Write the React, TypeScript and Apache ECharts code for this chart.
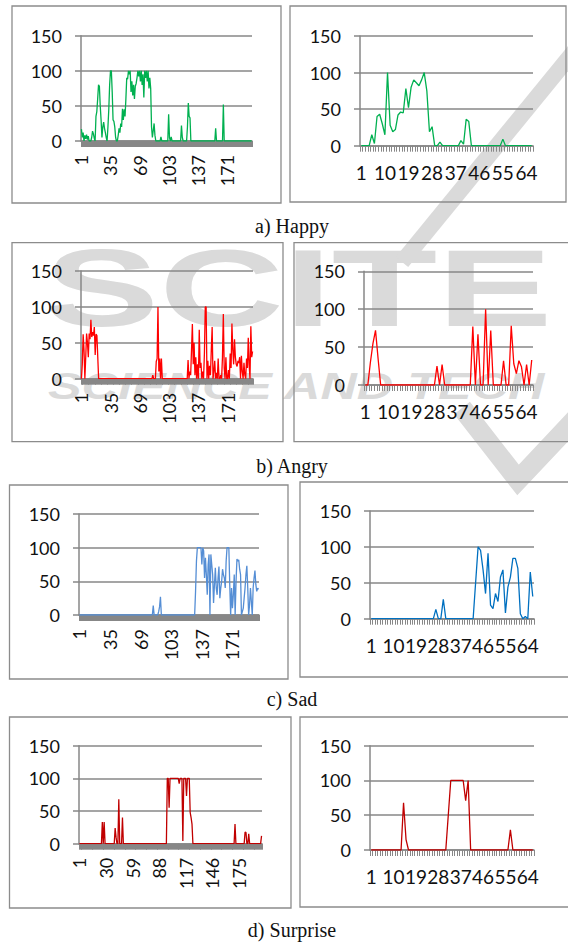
import React, { useEffect, useRef } from "react";
import * as echarts from "echarts";

// ---------- data (0..150 scale) ----------
const happyLeft = [
  17, 5, 12, 0, 8, 3, 9, 2, 7, 0,
  0, 0, 5, 14, 10, 4, 0, 35, 42, 60,
  80, 78, 50, 30, 5, 20, 27, 18, 12, 5,
  0, 20, 45, 80, 100, 100, 70, 30, 28, 20,
  5, 0, 0, 8, 18, 12, 25, 20, 46, 30,
  45, 35, 60, 90, 88, 100, 95, 100, 70, 85,
  65, 80, 60, 78, 82, 90, 100, 92, 100, 85,
  100, 80, 95, 62, 100, 90, 100, 85, 100, 75,
  90, 75, 20, 5, 15, 25, 8, 0, 0, 0,
  0, 0, 0, 6, 0, 0, 0, 0, 0, 0,
  0, 0, 38, 5, 0, 6, 0, 0, 0, 0,
  0, 0, 0, 0, 0, 0, 0, 22, 5, 0,
  0, 0, 0, 0, 20, 54, 35, 33, 0, 0,
  0, 0, 0, 0, 0, 0, 0, 0, 0, 0,
  0, 0, 0, 0, 0, 0, 0, 0, 0, 0,
  0, 0, 0, 0, 0, 0, 0, 18, 0, 0,
  0, 0, 0, 0, 0, 0, 52, 0, 0, 0,
  0, 0, 0, 0, 0, 0, 0, 0, 0, 0,
  0, 0, 0, 0, 0, 0, 0, 0, 0, 0,
  0, 0, 0, 0, 0, 0, 0, 0, 0, 0,
];

const happyRight = [
  0, 0, 0, 0, 15, 3, 40, 43, 30, 15,
  100, 28, 19, 22, 42, 46, 45, 78, 52, 80,
  90, 86, 82, 90, 100, 75, 19, 26, 0, 0,
  5, 0, 0, 0, 0, 0, 0, 0, 7, 2,
  36, 33, 0, 0, 0, 0, 0, 0, 0, 0,
  0, 0, 0, 0, 9, 0, 0, 0, 0, 0,
  0, 0, 0, 0, 0, 0,
];

const angryLeft = [
  0, 20, 62, 40, 0, 30, 63, 50, 30, 63,
  55, 82, 58, 65, 60, 72, 33, 62, 60, 30,
  0, 0, 0, 0, 0, 0, 0, 0, 0, 0,
  0, 0, 0, 0, 0, 0, 0, 0, 0, 0,
  0, 0, 0, 0, 0, 0, 0, 0, 0, 0,
  0, 0, 0, 0, 0, 0, 0, 0, 0, 0,
  0, 0, 0, 0, 0, 0, 0, 0, 0, 0,
  0, 0, 0, 0, 0, 0, 0, 0, 0, 0,
  0, 0, 0, 5, 0, 0, 0, 24, 28, 100,
  10, 28, 0, 28, 0, 0, 0, 0, 0, 0,
  0, 0, 0, 0, 0, 0, 0, 0, 0, 0,
  0, 0, 0, 0, 0, 0, 0, 0, 0, 0,
  0, 0, 0, 0, 26, 0, 10, 5, 40, 76,
  20, 50, 5, 30, 0, 20, 0, 68, 15, 22,
  0, 10, 0, 35, 100, 100, 0, 25, 0, 18,
  5, 40, 72, 0, 10, 25, 0, 8, 0, 28,
  0, 0, 5, 0, 30, 90, 15, 0, 30, 0,
  0, 12, 0, 35, 15, 77, 40, 20, 55, 30,
  20, 17, 25, 22, 30, 0, 32, 10, 0, 22,
  5, 0, 28, 15, 57, 20, 0, 73, 30, 38,
];

const angryRight = [
  0, 0, 30, 55, 72, 35, 0, 0, 0, 0,
  0, 0, 0, 0, 0, 0, 0, 0, 0, 0,
  0, 0, 0, 0, 0, 0, 0, 0, 25, 0,
  27, 0, 0, 0, 0, 0, 0, 0, 0, 0,
  0, 0, 77, 0, 67, 0, 0, 100, 0, 72,
  0, 0, 0, 0, 32, 0, 0, 78, 28, 15,
  32, 24, 0, 27, 0, 33,
];

const sadLeft = [
  0, 0, 0, 0, 0, 0, 0, 0, 0, 0,
  0, 0, 0, 0, 0, 0, 0, 0, 0, 0,
  0, 0, 0, 0, 0, 0, 0, 0, 0, 0,
  0, 0, 0, 0, 0, 0, 0, 0, 0, 0,
  0, 0, 0, 0, 0, 0, 0, 0, 0, 0,
  0, 0, 0, 0, 0, 0, 0, 0, 0, 0,
  0, 0, 0, 0, 0, 0, 0, 0, 0, 0,
  0, 0, 0, 0, 0, 0, 0, 0, 0, 0,
  0, 0, 14, 0, 0, 0, 0, 0, 5, 12,
  27, 0, 0, 0, 0, 0, 0, 0, 0, 0,
  0, 0, 0, 0, 0, 0, 0, 0, 0, 0,
  0, 0, 0, 0, 0, 0, 0, 0, 0, 0,
  0, 0, 0, 0, 0, 0, 0, 0, 0, 35,
  80, 100, 100, 100, 100, 100, 75, 100, 95, 55,
  85, 60, 30, 75, 90, 0, 90, 75, 60, 18,
  45, 70, 40, 30, 55, 72, 25, 40, 50, 68,
  60, 55, 40, 80, 100, 100, 100, 45, 0, 40,
  10, 30, 60, 0, 50, 83, 80, 82, 68, 60,
  0, 5, 10, 25, 40, 60, 73, 40, 0, 15,
  40, 20, 0, 40, 55, 66, 45, 35, 40, 38,
];

const sadRight = [
  0, 0, 0, 0, 0, 0, 0, 0, 0, 0,
  0, 0, 0, 0, 0, 0, 0, 0, 0, 0,
  0, 0, 0, 0, 0, 0, 13, 0, 0, 27,
  0, 0, 0, 0, 0, 0, 0, 0, 0, 0,
  0, 0, 50, 100, 95, 68, 35, 91, 19, 14,
  35, 24, 58, 68, 8, 44, 58, 84, 84, 70,
  7, 0, 3, 0, 65, 31,
];

const surpriseLeft = [
  0, 0, 0, 0, 0, 0, 0, 0, 0, 0,
  0, 0, 0, 0, 0, 0, 0, 0, 0, 0,
  0, 0, 0, 0, 0, 33, 0, 33, 0, 0,
  0, 0, 0, 0, 0, 0, 0, 0, 0, 24,
  10, 0, 0, 68, 0, 0, 0, 40, 0, 0,
  0, 0, 0, 0, 0, 0, 0, 0, 0, 0,
  0, 0, 0, 0, 0, 0, 0, 0, 0, 0,
  0, 0, 0, 0, 0, 0, 0, 0, 0, 0,
  0, 0, 0, 0, 0, 0, 0, 0, 0, 0,
  0, 0, 0, 0, 0, 0, 100, 100, 55, 100,
  100, 100, 100, 100, 100, 100, 100, 100, 100, 92,
  100, 100, 100, 4, 100, 100, 100, 73, 100, 100,
  100, 48, 40, 30, 0, 0, 0, 0, 0, 0,
  0, 0, 0, 0, 0, 0, 0, 0, 0, 0,
  0, 0, 0, 0, 0, 0, 0, 0, 0, 0,
  0, 0, 0, 0, 0, 0, 0, 0, 0, 0,
  0, 0, 0, 0, 0, 0, 0, 0, 0, 0,
  30, 0, 0, 0, 0, 0, 0, 0, 0, 0,
  0, 18, 17, 0, 0, 15, 0, 0, 0, 0,
  0, 0, 0, 0, 0, 0, 0, 0, 0, 12,
];

const surpriseRight = [
  0, 0, 0, 0, 0, 0, 0, 0, 0, 0,
  0, 0, 0, 68, 15, 0, 0, 0, 0, 0,
  0, 0, 0, 0, 0, 0, 0, 0, 0, 0,
  0, 50, 100, 100, 100, 100, 100, 100, 71, 100,
  0, 0, 0, 0, 0, 0, 0, 0, 0, 0,
  0, 0, 0, 0, 0, 0, 29, 0, 0, 0,
  0, 0, 0, 0, 0, 0,
];

const captions = ["a) Happy", "b) Angry", "c) Sad", "d) Surprise"];
const yMin = 0;
const yMax = 150;
const yStep = 50;

// ---------- layout ----------
type Panel = {
  data: number[];
  color: string;
  grid: [number, number, number, number];
  box: [number, number, number, number];
  every: number;
  rotate: number;
};

const panels: Panel[] = [
  { data: happyLeft, color: "#00b050", grid: [81, 35.7, 171, 105.3], box: [12, 6, 281, 203], every: 34, rotate: 90 },
  { data: happyRight, color: "#00b050", grid: [360, 36, 173, 109.7], box: [290, 6, 566, 202], every: 9, rotate: 0 },
  { data: angryLeft, color: "#ff0000", grid: [81, 271, 172, 107.7], box: [12, 242.7, 283, 441.7], every: 34, rotate: 90 },
  { data: angryRight, color: "#ff0000", grid: [364, 271.3, 169, 113.7], box: [294, 242.7, 572, 441.7], every: 9, rotate: 0 },
  { data: sadLeft, color: "#558ed5", grid: [79, 514, 180, 101], box: [9.5, 485, 288, 679], every: 34, rotate: 90 },
  { data: sadRight, color: "#0070c0", grid: [370, 511, 164, 107.7], box: [300, 482, 572, 677], every: 9, rotate: 0 },
  { data: surpriseLeft, color: "#c00000", grid: [79, 745.7, 183, 98], box: [9.5, 717, 291, 908], every: 29, rotate: 90 },
  { data: surpriseRight, color: "#c00000", grid: [370, 745.7, 164, 104.3], box: [300, 717, 572, 907], every: 9, rotate: 0 },
];

const captionPos: [number, number][] = [
  [292, 226],
  [292, 466],
  [292, 699],
  [292, 930],
];

const AXIS_GRAY = "#878787";
const BOX_GRAY = "#8c8c8c";
const WM = "#dadada";
const FONT = "Lato";

export default function App() {
  const ref = useRef<HTMLDivElement>(null);

  useEffect(() => {
    if (!ref.current) return;
    const chart = echarts.init(ref.current, null, { renderer: "svg" });

    const grid = panels.map((p) => ({
      left: p.grid[0],
      top: p.grid[1],
      width: p.grid[2],
      height: p.grid[3],
      containLabel: false,
    }));

    const xAxis = panels.map((p, i) => ({
      type: "category",
      gridIndex: i,
      z: 3,
      data: p.data.map((_, j) => String(j + 1)),
      boundaryGap: true,
      axisLine: { show: true, lineStyle: { color: AXIS_GRAY, width: 1.5 } },
      axisTick: { show: true, interval: 0, length: 6, lineStyle: { color: AXIS_GRAY, width: 1 } },
      axisLabel: {
        interval: p.every - 1,
        rotate: p.rotate,
        margin: p.rotate ? 14 : 17,
        fontSize: p.rotate ? 18 : 19,
        fontFamily: FONT,
        color: "#111",
      },
      splitLine: { show: false },
    }));

    const yAxis = panels.map((_, i) => ({
      type: "value",
      gridIndex: i,
      z: 3,
      min: yMin,
      max: yMax,
      interval: yStep,
      axisLine: { show: true, lineStyle: { color: AXIS_GRAY, width: 1.5 } },
      axisTick: { show: true, length: 6, lineStyle: { color: AXIS_GRAY, width: 1.5 } },
      axisLabel: { margin: 19, fontSize: 18, fontFamily: FONT, color: "#111" },
      splitLine: { show: true, lineStyle: { color: AXIS_GRAY, width: 1.5 } },
    }));

    const series = panels.map((p, i) => ({
      type: "line",
      xAxisIndex: i,
      yAxisIndex: i,
      z: 5,
      data: p.data,
      symbol: "none",
      lineStyle: { color: p.color, width: 1.3 },
      itemStyle: { color: p.color },
    }));

    const boxes = panels.map((p) => ({
      type: "rect",
      z: 1,
      silent: true,
      shape: { x: p.box[0], y: p.box[1], width: p.box[2] - p.box[0], height: p.box[3] - p.box[1] },
      style: { fill: "none", stroke: BOX_GRAY, lineWidth: 1.3 },
    }));

    const caps = captions.map((c, i) => ({
      type: "text",
      z: 1,
      x: captionPos[i][0],
      y: captionPos[i][1],
      style: {
        text: c,
        fill: "#111",
        font: "20px 'Liberation Serif'",
        align: "center",
        verticalAlign: "middle",
      },
    }));

    const watermark = [
      {
        type: "text",
        z: 0,
        x: 44,
        y: 233,
        scaleX: 1.57,
        style: { text: "SCITE", fill: WM, font: "bold 110px 'Liberation Sans'", align: "left", verticalAlign: "top" },
      },
      {
        type: "text",
        z: 0,
        x: 48,
        y: 368,
        scaleX: 1.4,
        style: {
          text: "SCIENCE AND TECH",
          fill: WM,
          font: "bold italic 36px 'Liberation Sans'",
          align: "left",
          verticalAlign: "top",
        },
      },
      {
        type: "line",
        z: 0,
        shape: { x1: 580, y1: 44, x2: 402, y2: 262 },
        style: { stroke: WM, lineWidth: 16 },
      },
      {
        type: "polyline",
        z: 0,
        shape: { points: [[462, 408], [518, 480], [580, 414]] },
        style: { stroke: WM, lineWidth: 20, fill: "none" },
      },
    ];

    chart.setOption({
      animation: false,
      backgroundColor: "#ffffff",
      textStyle: { fontFamily: FONT },
      grid,
      xAxis,
      yAxis,
      series,
      graphic: [...watermark, ...boxes, ...caps],
    });

    return () => chart.dispose();
  }, []);

  return <div ref={ref} style={{ position: "absolute", left: 0, top: 0, width: 568, height: 942 }} />;
}
